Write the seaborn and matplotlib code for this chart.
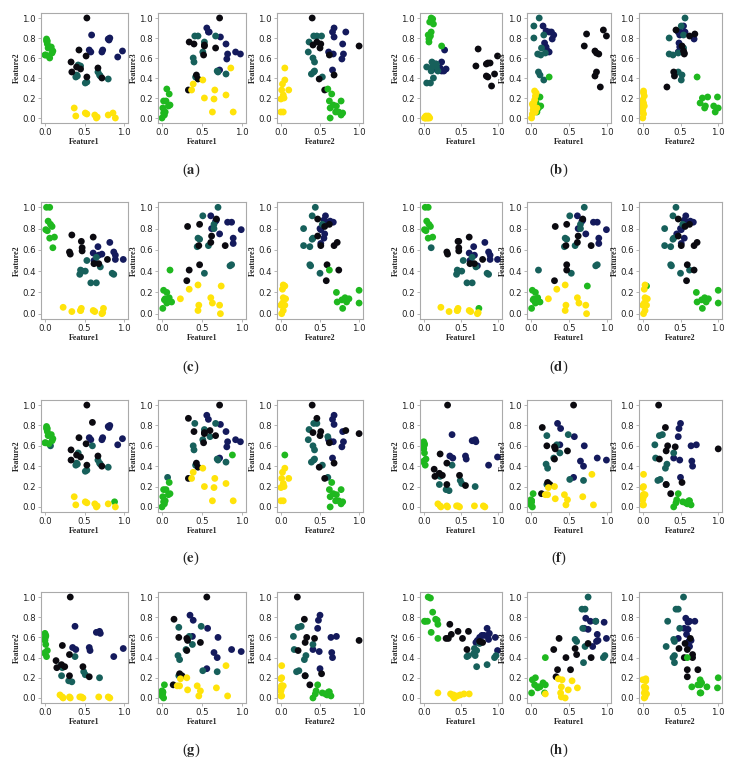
import pandas as pd
import matplotlib
matplotlib.use("Agg")
import matplotlib.pyplot as plt
import seaborn as sns

# colours of the five clusters
palette = {"black": "#0b0a10", "navy": "#141a5c", "teal": "#17605b",
           "green": "#1fb81f", "yellow": "#ffe30a"}

a_green = [(0.06, 0.60, 0.29), (0.09, 0.65, 0.24), (0.05, 0.62, 0.17), (0.02, 0.77, 0.17),
           (0.01, 0.63, 0.10), (0.08, 0.71, 0.12), (0.03, 0.74, 0.06), (0.04, 0.70, 0.06),
           (0.03, 0.77, 0.03), (0.00, 0.63, 0.00), (0.10, 0.67, 0.13), (0.02, 0.79, 0.05)]
a_yellow = [(0.37, 0.10, 0.28), (0.39, 0.02, 0.34), (0.51, 0.05, 0.38), (0.53, 0.04, 0.20),
            (0.63, 0.03, 0.06), (0.65, 0.00, 0.19), (0.66, 0.01, 0.28), (0.80, 0.03, 0.23),
            (0.86, 0.05, 0.50), (0.89, 0.00, 0.06)]
a_teal = [(0.42, 0.53, 0.41), (0.41, 0.42, 0.82), (0.39, 0.41, 0.60), (0.40, 0.43, 0.56),
          (0.51, 0.35, 0.66), (0.53, 0.36, 0.76), (0.45, 0.52, 0.82), (0.67, 0.46, 0.82),
          (0.69, 0.43, 0.47), (0.70, 0.42, 0.46), (0.80, 0.39, 0.44)]
a_navy = [(0.56, 0.68, 0.90), (0.58, 0.66, 0.86), (0.59, 0.83, 0.86), (0.72, 0.66, 0.48),
          (0.73, 0.68, 0.81), (0.80, 0.79, 0.74), (0.82, 0.80, 0.64), (0.81, 0.78, 0.59),
          (0.92, 0.61, 0.66), (0.98, 0.67, 0.64)]
a_black = [(0.53, 1.00, 0.72), (0.72, 0.40, 1.00), (0.33, 0.56, 0.28), (0.34, 0.46, 0.76),
           (0.40, 0.51, 0.74), (0.45, 0.49, 0.39), (0.53, 0.41, 0.73), (0.52, 0.62, 0.63),
           (0.67, 0.50, 0.70), (0.43, 0.68, 0.43)]

b_green = [(0.10, 1.00, 0.10), (0.08, 0.96, 0.06), (0.13, 0.94, 0.12), (0.10, 0.86, 0.21),
           (0.06, 0.83, 0.12), (0.07, 0.79, 0.20), (0.07, 0.76, 0.15), (0.24, 0.72, 0.41),
           (0.12, 0.99, 0.21), (0.09, 0.82, 0.10)]
b_yellow = [(0.01, 0.00, 0.00), (0.02, 0.01, 0.04), (0.03, 0.00, 0.08), (0.03, 0.02, 0.12),
            (0.04, 0.01, 0.15), (0.05, 0.00, 0.18), (0.06, 0.02, 0.22), (0.07, 0.01, 0.25),
            (0.05, 0.01, 0.27), (0.08, 0.00, 0.10), (0.02, 0.00, 0.14), (0.06, 0.00, 0.06)]
b_teal = [(0.11, 0.56, 1.00), (0.04, 0.51, 0.92), (0.04, 0.35, 0.80), (0.17, 0.54, 0.83),
          (0.09, 0.35, 0.64), (0.13, 0.40, 0.63), (0.14, 0.54, 0.70), (0.10, 0.47, 0.46),
          (0.12, 0.52, 0.43), (0.17, 0.51, 0.38), (0.19, 0.47, 0.65)]
b_navy = [(0.16, 0.54, 0.92), (0.20, 0.49, 0.87), (0.24, 0.56, 0.86), (0.27, 0.47, 0.86),
          (0.28, 0.68, 0.79), (0.18, 0.48, 0.75), (0.20, 0.49, 0.71), (0.22, 0.50, 0.67),
          (0.24, 0.47, 0.66), (0.30, 0.49, 0.83)]
b_black = [(0.73, 0.69, 0.84), (0.70, 0.52, 0.72), (0.84, 0.54, 0.67), (0.86, 0.55, 0.65),
           (0.84, 0.42, 0.42), (0.86, 0.41, 0.46), (0.91, 0.32, 0.31), (0.95, 0.44, 0.88),
           (0.99, 0.62, 0.82), (0.89, 0.55, 0.64)]

c_green = [(0.02, 1.00, 0.22), (0.06, 1.00, 0.10), (0.04, 0.87, 0.14), (0.07, 0.84, 0.11),
           (0.09, 0.82, 0.15), (0.01, 0.79, 0.05), (0.06, 0.71, 0.20), (0.12, 0.72, 0.11),
           (0.10, 0.62, 0.41), (0.03, 0.78, 0.13)]
c_yellow = [(0.23, 0.06, 0.14), (0.34, 0.02, 0.23), (0.45, 0.03, 0.27), (0.46, 0.05, 0.08),
            (0.45, 0.03, 0.03), (0.61, 0.03, 0.15), (0.63, 0.02, 0.10), (0.72, 0.00, 0.08),
            (0.74, 0.05, 0.26), (0.73, 0.01, 0.00)]
c_teal = [(0.70, 0.44, 1.00), (0.51, 0.40, 0.92), (0.65, 0.53, 0.84), (0.65, 0.29, 0.80),
          (0.45, 0.41, 0.71), (0.58, 0.29, 0.64), (0.44, 0.37, 0.63), (0.53, 0.50, 0.38),
          (0.85, 0.38, 0.45), (0.87, 0.37, 0.46), (0.47, 0.40, 0.70)]
c_navy = [(0.61, 0.57, 0.92), (0.68, 0.55, 0.88), (0.67, 0.63, 0.87), (0.72, 0.56, 0.75),
          (0.82, 0.67, 0.86), (0.87, 0.58, 0.86), (0.89, 0.55, 0.71), (0.89, 0.51, 0.66),
          (0.99, 0.51, 0.79), (0.62, 0.50, 0.80)]
c_black = [(0.34, 0.74, 0.41), (0.31, 0.58, 0.31), (0.32, 0.56, 0.82), (0.46, 0.68, 0.64),
           (0.47, 0.62, 0.84), (0.47, 0.59, 0.46), (0.61, 0.72, 0.67), (0.62, 0.47, 0.73),
           (0.68, 0.47, 0.89), (0.79, 0.51, 0.64)]

d_green = [(0.02, 1.00, 0.22), (0.06, 1.00, 0.10), (0.04, 0.87, 0.14), (0.07, 0.84, 0.11),
           (0.09, 0.82, 0.15), (0.01, 0.79, 0.05), (0.06, 0.71, 0.20), (0.12, 0.72, 0.11),
           (0.74, 0.05, 0.26), (0.03, 0.78, 0.13)]
d_yellow = [(0.23, 0.06, 0.14), (0.34, 0.02, 0.23), (0.45, 0.03, 0.27), (0.46, 0.05, 0.08),
            (0.45, 0.03, 0.03), (0.61, 0.03, 0.15), (0.63, 0.02, 0.10), (0.72, 0.00, 0.08),
            (0.73, 0.01, 0.00)]
d_teal = [(0.70, 0.44, 1.00), (0.51, 0.40, 0.92), (0.65, 0.53, 0.84), (0.65, 0.29, 0.80),
          (0.45, 0.41, 0.71), (0.58, 0.29, 0.64), (0.44, 0.37, 0.63), (0.53, 0.50, 0.38),
          (0.85, 0.38, 0.45), (0.87, 0.37, 0.46), (0.47, 0.40, 0.70), (0.10, 0.62, 0.41)]
d_navy = [(0.61, 0.57, 0.92), (0.68, 0.55, 0.88), (0.67, 0.63, 0.87), (0.72, 0.45, 0.75),
          (0.82, 0.67, 0.86), (0.87, 0.58, 0.86), (0.89, 0.55, 0.71), (0.89, 0.51, 0.66),
          (0.99, 0.51, 0.79), (0.62, 0.50, 0.80)]
d_black = [(0.47, 0.68, 0.41), (0.31, 0.58, 0.31), (0.32, 0.56, 0.82), (0.46, 0.68, 0.64),
           (0.47, 0.62, 0.84), (0.47, 0.59, 0.46), (0.61, 0.72, 0.67), (0.62, 0.47, 0.73),
           (0.68, 0.47, 0.89), (0.79, 0.51, 0.64)]

e_green = [(0.09, 0.65, 0.24), (0.05, 0.62, 0.17), (0.02, 0.77, 0.17), (0.01, 0.63, 0.10),
           (0.08, 0.71, 0.12), (0.03, 0.74, 0.06), (0.04, 0.70, 0.06), (0.03, 0.77, 0.03),
           (0.00, 0.63, 0.00), (0.10, 0.67, 0.13), (0.02, 0.79, 0.05), (0.88, 0.05, 0.51)]
e_yellow = [(0.37, 0.10, 0.28), (0.39, 0.02, 0.34), (0.51, 0.05, 0.38), (0.53, 0.04, 0.20),
            (0.63, 0.03, 0.06), (0.65, 0.00, 0.19), (0.66, 0.01, 0.28), (0.80, 0.03, 0.23),
            (0.89, 0.00, 0.06)]
e_teal = [(0.42, 0.53, 0.41), (0.41, 0.42, 0.82), (0.39, 0.41, 0.60), (0.40, 0.43, 0.56),
          (0.51, 0.35, 0.66), (0.53, 0.36, 0.76), (0.60, 0.60, 0.69), (0.67, 0.46, 0.82),
          (0.69, 0.43, 0.47), (0.70, 0.42, 0.46), (0.80, 0.39, 0.44), (0.07, 0.60, 0.29)]
e_navy = [(0.56, 0.68, 0.90), (0.58, 0.66, 0.86), (0.72, 0.66, 0.48), (0.73, 0.68, 0.81),
          (0.80, 0.79, 0.74), (0.82, 0.80, 0.64), (0.81, 0.78, 0.59), (0.92, 0.61, 0.66),
          (0.98, 0.67, 0.64)]
e_black = [(0.53, 1.00, 0.72), (0.72, 0.40, 1.00), (0.33, 0.56, 0.28), (0.33, 0.46, 0.87),
           (0.40, 0.51, 0.74), (0.45, 0.49, 0.39), (0.53, 0.41, 0.73), (0.52, 0.62, 0.63),
           (0.67, 0.50, 0.70), (0.43, 0.68, 0.43), (0.60, 0.83, 0.75)]

f_green = [(0.00, 0.64, 0.02), (0.01, 0.61, 0.06), (0.00, 0.57, 0.04), (0.01, 0.53, 0.05),
           (0.03, 0.47, 0.13), (0.00, 0.44, 0.04), (0.02, 0.41, 0.00), (0.01, 0.62, 0.06),
           (0.00, 0.45, 0.07), (0.00, 0.59, 0.03)]
f_yellow = [(0.19, 0.03, 0.12), (0.23, 0.00, 0.19), (0.22, 0.01, 0.12), (0.31, 0.01, 0.20),
            (0.32, 0.00, 0.08), (0.44, 0.01, 0.12), (0.48, 0.00, 0.07), (0.46, 0.01, 0.02),
            (0.68, 0.01, 0.10), (0.80, 0.01, 0.32), (0.82, 0.00, 0.02)]
f_teal = [(0.21, 0.22, 0.70), (0.20, 0.32, 0.42), (0.22, 0.30, 0.38), (0.30, 0.17, 0.48),
          (0.34, 0.16, 0.61), (0.38, 0.41, 0.53), (0.49, 0.26, 0.71), (0.51, 0.23, 0.27),
          (0.69, 0.20, 0.26), (0.21, 0.31, 0.22)]
f_navy = [(0.35, 0.50, 0.82), (0.39, 0.48, 0.77), (0.38, 0.71, 0.61), (0.57, 0.47, 0.69),
          (0.56, 0.50, 0.29), (0.65, 0.65, 0.45), (0.69, 0.66, 0.40), (0.70, 0.64, 0.60),
          (0.87, 0.41, 0.48), (0.99, 0.49, 0.46)]
f_black = [(0.32, 1.00, 0.57), (0.56, 0.21, 1.00), (0.14, 0.37, 0.13), (0.15, 0.30, 0.78),
           (0.21, 0.33, 0.60), (0.22, 0.52, 0.24), (0.25, 0.31, 0.22), (0.31, 0.43, 0.59),
           (0.31, 0.22, 0.47), (0.48, 0.31, 0.55)]

# panel (g) shows the same points as (f)
g_green, g_yellow, g_teal, g_navy, g_black = f_green, f_yellow, f_teal, f_navy, f_black

h_green = [(0.06, 1.00, 0.20), (0.09, 0.99, 0.10), (0.12, 0.85, 0.11), (0.01, 0.76, 0.05),
           (0.05, 0.76, 0.13), (0.16, 0.78, 0.15), (0.19, 0.73, 0.13), (0.10, 0.65, 0.11),
           (0.19, 0.59, 0.40), (0.02, 0.76, 0.18), (0.18, 0.77, 0.05)]
h_yellow = [(0.36, 0.04, 0.19), (0.40, 0.02, 0.11), (0.41, 0.00, 0.18), (0.39, 0.02, 0.05),
            (0.40, 0.03, 0.01), (0.49, 0.03, 0.08), (0.54, 0.04, 0.17), (0.61, 0.04, 0.10),
            (0.19, 0.05, 0.04), (0.45, 0.02, 0.00)]
h_teal = [(0.75, 0.54, 1.00), (0.67, 0.44, 0.88), (0.71, 0.47, 0.88), (0.85, 0.33, 0.76),
          (0.68, 0.49, 0.69), (0.58, 0.41, 0.58), (0.71, 0.31, 0.51), (0.69, 0.42, 0.35),
          (0.95, 0.40, 0.40), (0.97, 0.42, 0.42), (0.60, 0.42, 0.56)]
h_navy = [(0.72, 0.57, 0.79), (0.78, 0.62, 0.76), (0.81, 0.62, 0.51), (0.86, 0.61, 0.56),
          (0.85, 0.69, 0.76), (0.88, 0.64, 0.57), (0.87, 0.58, 0.63), (0.96, 0.60, 0.75),
          (0.99, 0.47, 0.59), (0.75, 0.60, 0.68), (0.70, 0.55, 0.69)]
h_black = [(0.30, 0.59, 0.48), (0.33, 0.59, 0.21), (0.35, 0.73, 0.28), (0.37, 0.63, 0.59),
           (0.46, 0.66, 0.40), (0.52, 0.59, 0.28), (0.60, 0.66, 0.43), (0.58, 0.48, 0.49),
           (0.79, 0.55, 0.40), (0.75, 0.56, 0.54)]


def make_df(**clusters):
    rows = []
    for name, pts in clusters.items():
        for f1, f2, f3 in pts:
            rows.append({"Feature1": f1, "Feature2": f2, "Feature3": f3, "cluster": name})
    return pd.DataFrame(rows)


panels = [
    ("a", make_df(navy=a_navy, teal=a_teal, black=a_black, green=a_green, yellow=a_yellow)),
    ("b", make_df(navy=b_navy, teal=b_teal, black=b_black, green=b_green, yellow=b_yellow)),
    ("c", make_df(navy=c_navy, teal=c_teal, black=c_black, green=c_green, yellow=c_yellow)),
    ("d", make_df(navy=d_navy, teal=d_teal, black=d_black, green=d_green, yellow=d_yellow)),
    ("e", make_df(navy=e_navy, teal=e_teal, black=e_black, green=e_green, yellow=e_yellow)),
    ("f", make_df(navy=f_navy, teal=f_teal, black=f_black, green=f_green, yellow=f_yellow)),
    ("g", make_df(navy=g_navy, teal=g_teal, black=g_black, green=g_green, yellow=g_yellow)),
    ("h", make_df(navy=h_navy, teal=h_teal, black=h_black, green=h_green, yellow=h_yellow)),
]

views = [("Feature1", "Feature2"), ("Feature1", "Feature3"), ("Feature2", "Feature3")]

sns.set_style("white")
plt.rcParams["font.family"] = ["DejaVu Sans"]
plt.rcParams["mathtext.fontset"] = "stix"

W, H = 738, 767
fig = plt.figure(figsize=(W / 100, H / 100), dpi=100)

# pixel layout of the sub-axes
col_lefts = [[41, 158, 277], [420, 527, 639]]
col_widths = [[87, 88, 86], [82, 84, 83]]
row_tops = [13, 202, 400, 592]
row_bottoms = [123, 319, 512, 703]
label_x = [191, 559]
label_y = [170, 367, 558, 750]

for i, (letter, df) in enumerate(panels):
    r, c = divmod(i, 2)
    for j, (xcol, ycol) in enumerate(views):
        left, w = col_lefts[c][j], col_widths[c][j]
        top, bot = row_tops[r], row_bottoms[r]
        ax = fig.add_axes([left / W, 1 - bot / H, w / W, (bot - top) / H])
        sns.scatterplot(data=df, x=xcol, y=ycol, hue="cluster", palette=palette,
                        s=24, linewidth=0, alpha=1, legend=False, ax=ax)
        ax.set_xlim(-0.05, 1.05)
        ax.set_ylim(-0.05, 1.05)
        ax.set_xticks([0.0, 0.5, 1.0])
        ax.set_yticks([0.0, 0.2, 0.4, 0.6, 0.8, 1.0])
        ax.tick_params(labelsize=6.2, length=2, width=0.5, pad=1.5,
                       colors="#999999", labelcolor="#222222", left=True, bottom=True)
        for sp in ax.spines.values():
            sp.set_color("#aaaaaa")
            sp.set_linewidth(0.8)
        ax.set_xlabel(xcol, fontsize=5.8, fontweight="bold",
                      family="Liberation Serif", labelpad=1)
        ax.set_ylabel(ycol, fontsize=5.8, fontweight="bold",
                      family="Liberation Serif", labelpad=1)
    fig.text(label_x[c] / W, 1 - label_y[r] / H, r"($\mathbf{%s}$)" % letter,
             ha="center", va="center", fontsize=10.5, family="Liberation Serif")

fig.savefig("out.png", dpi=100)
